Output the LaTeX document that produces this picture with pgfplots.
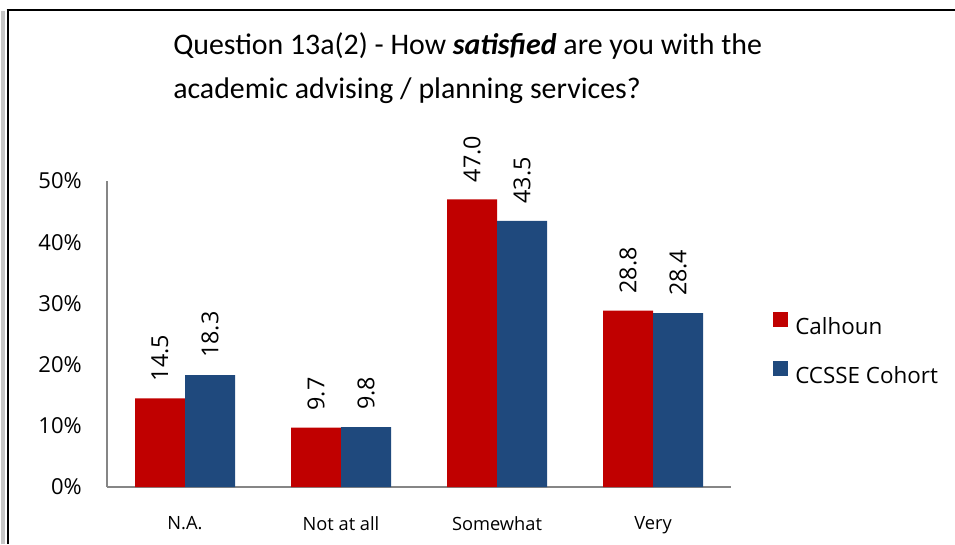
\documentclass[border=0pt]{standalone}
\usepackage{pgfplots}
\pgfplotsset{compat=1.18}
\usepackage{fontspec}
\setmainfont{Open Sans}
\newfontfamily\calibri{Carlito}
\definecolor{cred}{HTML}{C00000}
\definecolor{cblue}{HTML}{1F497D}
\definecolor{axgray}{HTML}{868686}
\begin{document}
\begin{tikzpicture}
\useasboundingbox (0,0) rectangle (716.25pt,408pt);
\draw[gray!45, line width=3pt] (2.5pt,0) -- (2.5pt,400pt);
\draw[black, line width=2pt] (6pt,0) -- (6pt,401.25pt);
\draw[black, line width=1.5pt] (5pt,400.5pt) -- (716.25pt,400.5pt);
\node[anchor=base west, inner sep=0pt, font=\calibri\fontsize{22.4}{26}\selectfont] at (129.75pt,367pt) {Question 13a(2) - How \textbf{\textit{satisfied}} are you with the};
\node[anchor=base west, inner sep=0pt, font=\calibri\fontsize{22.4}{26}\selectfont] at (129.75pt,334pt) {academic advising / planning services?};
\begin{axis}[
  at={(80.25pt,42.75pt)}, anchor=south west,
  scale only axis, width=468pt, height=229.5pt,
  xmin=-0.5, xmax=3.5, ymin=0, ymax=50, enlargelimits=false,
  clip=false,
  ybar=0pt, bar width=37.5pt,
  axis x line*=bottom, axis y line*=left,
  axis line style={axgray, line width=1.2pt},
  major tick length=0pt,
  /pgf/number format/assume math mode=true,
  ytick={0,10,20,30,40,50},
  yticklabels={0\%,10\%,20\%,30\%,40\%,50\%},
  xtick={0,1,2,3},
  xticklabels={N.A., Not at all, Somewhat, Very},
  yticklabel style={font=\fontsize{16.5}{19}\selectfont, anchor=east, inner sep=0pt, xshift=-18.75pt},
  xticklabel style={font=\fontsize{13.7}{16}\selectfont, anchor=north, inner sep=0pt, yshift=-22pt},
  nodes near coords={\rotatebox{90}{\pgfmathprintnumber[fixed,fixed zerofill,precision=1,assume math mode=true]{\pgfplotspointmeta}}},
  every node near coord/.append style={font=\fontsize{17.5}{20}\selectfont, inner sep=0pt, yshift=12.75pt, text=black},
  legend style={at={(1,0.452)}, anchor=west, xshift=31.5pt, draw=none, fill=none, inner sep=0pt,
    row sep=18.5pt, font=\fontsize{16.8}{20}\selectfont, nodes={inner sep=0pt},
    /tikz/every odd column/.append style={column sep=5.25pt}},
  legend cell align=left,
]
\addplot[fill=cred, draw=none, legend image code/.code={\fill[cred] (0pt,0pt) rectangle (11.25pt,11.25pt);}] coordinates {(0,14.5) (1,9.7) (2,47.0) (3,28.8)};
\addplot[fill=cblue, draw=none, legend image code/.code={\fill[cblue] (0pt,0pt) rectangle (11.25pt,11.25pt);}] coordinates {(0,18.3) (1,9.8) (2,43.5) (3,28.4)};
\legend{Calhoun, CCSSE Cohort}
\end{axis}
\end{tikzpicture}
\end{document}
